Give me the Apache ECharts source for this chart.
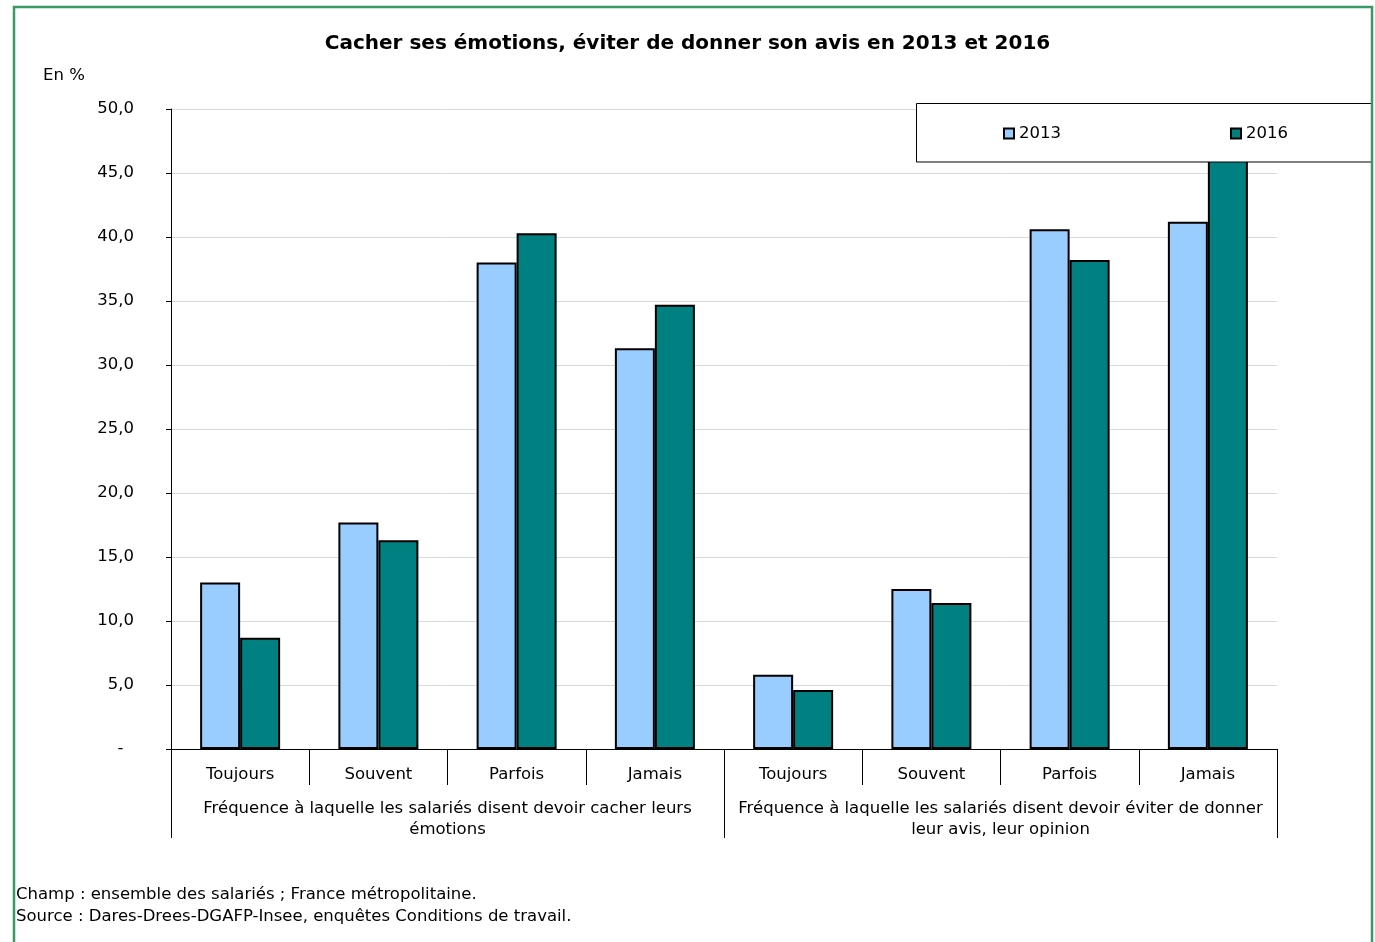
<!DOCTYPE html>
<html>
<head>
<meta charset="utf-8">
<script src="https://cdn.jsdelivr.net/npm/echarts@6/dist/echarts.min.js"></script>
<style>
html,body{margin:0;padding:0;background:#fff;}
#c{width:1375px;height:942px;}
</style>
</head>
<body>
<div id="c"></div>
<script>
const titleText = "Cacher ses émotions, éviter de donner son avis en 2013 et 2016";
const unitLabel = "En %";
const categories = ["Toujours", "Souvent", "Parfois", "Jamais", "Toujours", "Souvent", "Parfois", "Jamais"];
const groups = ["Fréquence à laquelle les salariés disent devoir cacher leurs\némotions",
                "Fréquence à laquelle les salariés disent devoir éviter de donner\nleur avis, leur opinion"];
const seriesNames = ["2013", "2016"];
const values2013 = [13.0, 17.7, 38.0, 31.3, 5.8, 12.5, 40.6, 41.2];
const values2016 = [8.7, 16.3, 40.3, 34.7, 4.6, 11.4, 38.2, 46.5];
const notes = ["Champ : ensemble des salariés ; France métropolitaine.",
               "Source : Dares-Drees-DGAFP-Insee, enquêtes Conditions de travail."];

const FONT = "DejaVu Sans";
const FS = 16.5;
const chart = echarts.init(document.getElementById('c'), null, {renderer: 'canvas'});
chart.setOption({
  backgroundColor: '#fff',
  animation: false,
  textStyle: {fontFamily: FONT, color: '#000'},
  title: [
    {text: titleText, left: 'center', top: 29,
     textStyle: {fontFamily: FONT, fontSize: 20, fontWeight: 'bold', color: '#000'}},
    {text: unitLabel, left: 38, top: 62,
     textStyle: {fontFamily: FONT, fontSize: 16.5, fontWeight: 'normal', color: '#000'}},
    {text: notes[0], left: 11, top: 881,
     textStyle: {fontFamily: FONT, fontSize: FS, fontWeight: 'normal', color: '#000'}},
    {text: notes[1], left: 11, top: 903,
     textStyle: {fontFamily: FONT, fontSize: FS, fontWeight: 'normal', color: '#000'}}
  ],
  legend: {
    data: seriesNames,
    left: 1003, top: 125,
    orient: 'horizontal',
    icon: 'rect',
    itemWidth: 10, itemHeight: 10,
    itemGap: 169,
    padding: 0,
    textStyle: {fontFamily: FONT, fontSize: FS, color: '#000'},
    z: 10
  },
  grid: {left: 171, right: 98, top: 109, bottom: 193, containLabel: false},
  xAxis: [
    {type: 'category', data: categories, position: 'bottom',
     axisLine: {show: true, lineStyle: {color: '#000', width: 1}},
     axisTick: {show: true, length: 36, interval: 0, lineStyle: {color: '#000', width: 1}},
     axisLabel: {interval: 0, margin: 17, fontFamily: FONT, fontSize: FS, color: '#000'},
     splitLine: {show: false}},
    {type: 'category', data: groups, position: 'bottom',
     axisLine: {show: false},
     axisTick: {show: true, length: 89, interval: 0, lineStyle: {color: '#000', width: 1}},
     axisLabel: {interval: 0, margin: 49, fontFamily: FONT, fontSize: FS, color: '#000', lineHeight: 21}},
  ],
  yAxis: {
    type: 'value', min: 0, max: 50, interval: 5,
    axisLine: {show: true, lineStyle: {color: '#000', width: 1}},
    axisTick: {show: true, length: 5, lineStyle: {color: '#000'}},
    axisLabel: {margin: 37, fontFamily: FONT, fontSize: FS, color: '#000',
      formatter: v => v === 0 ? '-  ' : v.toFixed(1).replace('.', ',')},
    splitLine: {show: true, lineStyle: {color: '#d9d9d9', width: 1}}
  },
  series: [
    {name: seriesNames[0], type: 'bar', data: values2013, barWidth: 40, barGap: '0%',
     itemStyle: {color: '#99CCFF', borderColor: '#000', borderWidth: 2}},
    {name: seriesNames[1], type: 'bar', data: values2016, barWidth: 40, barGap: '0%',
     itemStyle: {color: '#008080', borderColor: '#000', borderWidth: 2}}
  ],
  graphic: [
    {type: 'rect', shape: {x: 916.5, y: 103.5, width: 455, height: 58.5},
     style: {fill: '#fff', stroke: '#000', lineWidth: 1}, z: 5, silent: true},
    {type: 'rect', shape: {x: 14, y: 7, width: 1358, height: 960},
     style: {fill: 'none', stroke: '#3A9B62', lineWidth: 2.5}, z: 100, silent: true}
  ]
});
</script>
</body>
</html>
